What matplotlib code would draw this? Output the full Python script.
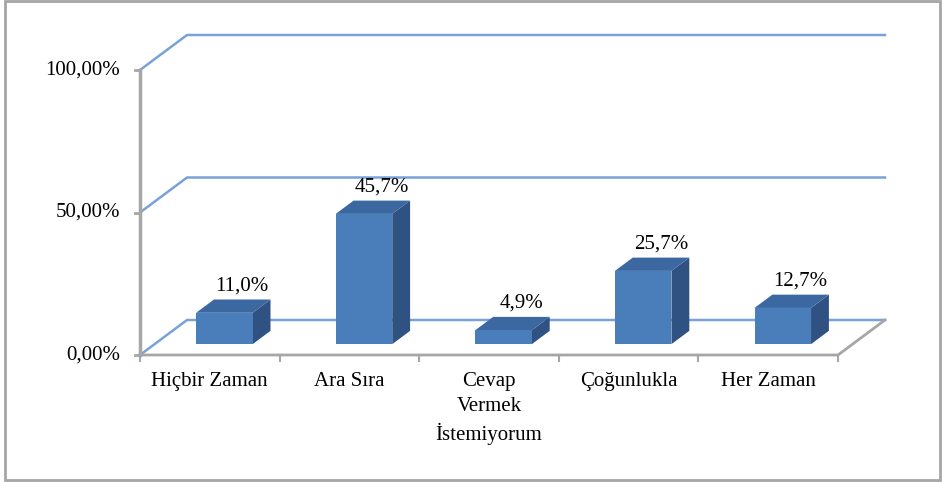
import matplotlib
matplotlib.use("Agg")
import matplotlib.pyplot as plt
from matplotlib.patches import Polygon, Rectangle

plt.rcParams['font.family'] = ['Liberation Serif', 'DejaVu Serif']

# data
categories = ["Hiçbir Zaman", "Ara Sıra", "Cevap\nVermek\nİstemiyorum", "Çoğunlukla", "Her Zaman"]
values = [11.0, 45.7, 4.9, 25.7, 12.7]
y_ticks = [0, 50, 100]

# pseudo-3D geometry (pixels per unit)
PX = 139.6   # px per category
PY = 2.85    # px per percent
DX = 47 / PX   # depth offset of back wall, x units
DY = 35 / PY   # depth offset of back wall, y units
BAR_HW = 0.2025
D0, D1 = 0.31, 0.69

front_col = '#4a7ebb'
top_col = '#3c68a2'
side_col = '#2f5283'
grid_col = '#78a2d8'
axis_col = '#a6a6a6'


def proj(x, v, d):
    return x + d * DX, v + d * DY


fig = plt.figure(figsize=(9.42, 4.82), dpi=100)
ax = fig.add_axes([0, 0, 1, 1])
ax.set_xlim(-140 / PX, (942 - 140) / PX)
ax.set_ylim(-(482 - 355) / PY, 355 / PY)
ax.axis('off')

n = len(categories)

# outer border
ax.add_patch(Rectangle((-135 / PX, -(480 - 355) / PY), 935 / PX, 479 / PY,
                       fill=False, ec=axis_col, lw=2, zorder=0))

# gridlines (front axis -> back wall -> right)
for g in y_ticks:
    pts = [proj(0, g, 0), proj(0, g, 1), proj(n, g, 1)]
    ax.plot([p[0] for p in pts], [p[1] for p in pts], color=grid_col, lw=1.8, zorder=1)
    ax.plot([-5 / PX, 0], [g, g], color=axis_col, lw=2, zorder=1)
    ax.text(-20 / PX, g, f"{g:.2f}%".replace('.', ','), ha='right', va='center', fontsize=15)

# floor edges and vertical axis
pts = [proj(0, 0, 0), proj(n, 0, 0), proj(n, 0, 1)]
ax.plot([p[0] for p in pts], [p[1] for p in pts], color=axis_col, lw=2, zorder=2)
ax.plot([0, 0], [0, 100], color=axis_col, lw=2.5, zorder=2)
for k in range(n + 1):
    ax.plot([k, k], [0, -6 / PY], color=axis_col, lw=1.5, zorder=2)

# bars
for i, v in enumerate(values):
    c = i + 0.5
    l, r = c - BAR_HW, c + BAR_HW
    front = [proj(l, 0, D0), proj(r, 0, D0), proj(r, v, D0), proj(l, v, D0)]
    top = [proj(l, v, D0), proj(r, v, D0), proj(r, v, D1), proj(l, v, D1)]
    side = [proj(r, 0, D0), proj(r, 0, D1), proj(r, v, D1), proj(r, v, D0)]
    ax.add_patch(Polygon(side, closed=True, fc=side_col, ec='none', zorder=3))
    ax.add_patch(Polygon(top, closed=True, fc=top_col, ec='none', zorder=3))
    ax.add_patch(Polygon(front, closed=True, fc=front_col, ec='none', zorder=4))
    lx, ly = proj(c, v, D1)
    ax.text(lx, ly + 1.5, f"{v:.1f}%".replace('.', ','), ha='center', va='bottom',
            fontsize=15, zorder=5)

# category labels
for i, name in enumerate(categories):
    ax.text(i + 0.5, -17 / PY, name, ha='center', va='top', fontsize=15,
            linespacing=1.4)

fig.savefig("out.png", dpi=100)
